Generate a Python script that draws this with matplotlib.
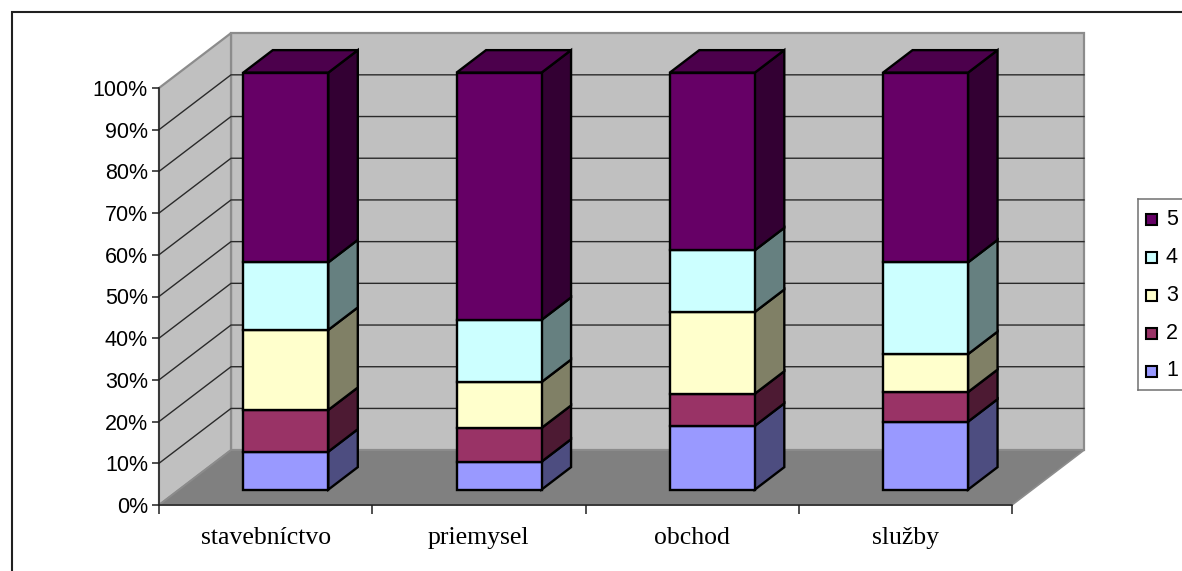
import matplotlib
matplotlib.use("Agg")
import matplotlib.pyplot as plt
from matplotlib.patches import Polygon, Rectangle

categories = ["stavebníctvo", "priemysel", "obchod", "služby"]
series_names = ["1", "2", "3", "4", "5"]
s1 = [9.1, 6.7, 15.3, 16.3]
s2 = [10.0, 8.1, 7.7, 7.1]
s3 = [19.2, 11.0, 19.6, 9.1]
s4 = [16.2, 14.9, 14.8, 22.0]
s5 = [45.5, 59.3, 42.6, 45.5]
series = [s1, s2, s3, s4, s5]

front_colors = ["#9999FF", "#993366", "#FFFFCC", "#CCFFFF", "#660066"]
side_colors = ["#4D4D80", "#4D1A33", "#808066", "#668080", "#330033"]
top_color = "#4C004C"

W, H = 1182, 571
DEPTH_X = 72 / 213.25   # box depth in category units
DEPTH_Y = 55 / 4.18     # box depth in percent units

fig = plt.figure(figsize=(W / 100, H / 100), dpi=100)
fig.add_artist(Rectangle((12 / W, -0.05), 1.1, 1 - 12 / H + 0.05, transform=fig.transFigure,
                         fc="white", ec="#202020", lw=1.5, zorder=-1))

# front plane of the 3d box, from 0% to 100%
ax = fig.add_axes([159 / W, 1 - 505 / H, 853 / W, 417 / H])
ax.set_xlim(0, 4)
ax.set_ylim(0, 100)
ax.patch.set_visible(False)


def proj(x, y, d):
    return (x + d * DEPTH_X, y + d * DEPTH_Y)


def face(points, **kw):
    ax.add_patch(Polygon(points, closed=True, clip_on=False, **kw))


# walls and floor
face([proj(0, 0, 1), proj(4, 0, 1), proj(4, 100, 1), proj(0, 100, 1)],
     fc="#C0C0C0", ec="#8C8C8C", lw=1.6, zorder=1)
face([proj(0, 0, 0), proj(0, 0, 1), proj(0, 100, 1), proj(0, 100, 0)],
     fc="#C0C0C0", ec="#8C8C8C", lw=1.6, zorder=1)
face([proj(0, 0, 0), proj(4, 0, 0), proj(4, 0, 1), proj(0, 0, 1)],
     fc="#808080", ec="#8C8C8C", lw=1.2, zorder=1)

# gridlines run along the side wall and the back wall
for g in range(10, 100, 10):
    pts = [proj(0, g, 0), proj(0, g, 1), proj(4, g, 1)]
    ax.plot([p[0] for p in pts], [p[1] for p in pts], color="#2A2A2A", lw=1.0,
            clip_on=False, zorder=2)

# stacked boxes
bar_w = 85 / 213.25
d0, d1 = 0.28, 0.69
for i in range(len(categories)):
    left = i + 0.5 - bar_w / 2
    right = left + bar_w
    base = 0
    for j, vals in enumerate(series):
        top = base + vals[i]
        face([proj(left, base, d0), proj(right, base, d0), proj(right, top, d0), proj(left, top, d0)],
             fc=front_colors[j], ec="black", lw=1.7, joinstyle="miter", zorder=5)
        face([proj(right, base, d0), proj(right, base, d1), proj(right, top, d1), proj(right, top, d0)],
             fc=side_colors[j], ec="black", lw=1.7, joinstyle="miter", zorder=4)
        base = top
    face([proj(left, base, d0), proj(right, base, d0), proj(right, base, d1), proj(left, base, d1)],
         fc=top_color, ec="black", lw=1.7, joinstyle="miter", zorder=4)

# axes
for side in ["top", "right"]:
    ax.spines[side].set_visible(False)
for side in ["left", "bottom"]:
    ax.spines[side].set_linewidth(1.1)
    ax.spines[side].set_color("#202020")
    ax.spines[side].set_zorder(3)
ax.set_yticks(range(0, 101, 10))
ax.set_yticklabels([f"{v}%" for v in range(0, 101, 10)], fontfamily="Liberation Sans", fontsize=15.5)
ax.tick_params(axis="y", length=5, width=1.1, color="#202020", pad=3)
ax.set_xticks(range(5))
ax.set_xticklabels([])
ax.tick_params(axis="x", length=6.5, width=1.1, color="#202020")
for i, name in enumerate(categories):
    ax.annotate(name, (i + 0.5, 0), xytext=(0, -16), xycoords="data", textcoords="offset points",
                ha="center", va="top", fontfamily="Liberation Serif", fontsize=18.5, annotation_clip=False)

# legend box runs off the right edge
leg = fig.add_axes([1138 / W, 1 - 390 / H, 60 / W, 191 / H])
leg.set_xlim(1138, 1198)
leg.set_ylim(390, 199)
leg.set_xticks([])
leg.set_yticks([])
leg.set_facecolor("white")
for sp in leg.spines.values():
    sp.set_color("#707070")
    sp.set_linewidth(1.1)
for j, name in enumerate(series_names):
    row = 371 - j * 37.8
    leg.add_patch(Rectangle((1146, row - 5.5), 11, 11, fc=front_colors[j], ec="black", lw=1.5))
    leg.text(1166, row, name, ha="left", va="center", fontfamily="Liberation Sans", fontsize=15.5)

fig.savefig("out.png", dpi=100)
